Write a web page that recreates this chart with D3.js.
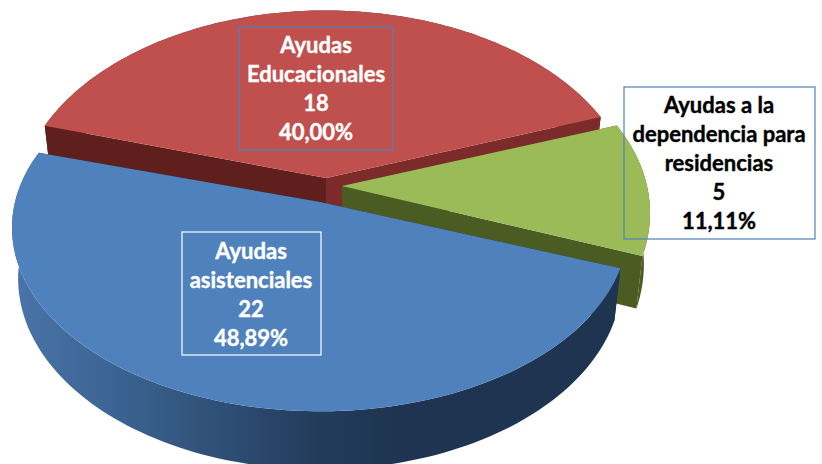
<!DOCTYPE html>
<html>
<head>
<meta charset="utf-8">
<style>
  html, body { margin: 0; padding: 0; background: #fff; overflow: hidden; }
  text { font-family: Lato, 'Open Sans', sans-serif; font-weight: 700; }
</style>
<script src="https://cdn.jsdelivr.net/npm/d3@7"></script>
</head>
<body>
<div id="chart"></div>
<script>
// Data
const categories = ['Educacionales', 'Dependencia', 'Asistenciales']
const values = [18, 5, 22]
const labelLines = [
  ['Ayudas', 'Educacionales', '18', '40,00%'],
  ['Ayudas a la', 'dependencia para', 'residencias', '5', '11,11%'],
  ['Ayudas', 'asistenciales', '22', '48,89%'],
]
const faceColors = ['#c0504d', '#9bbb59', '#4f81bd']

const width = 822
const height = 464

// Where each exploded slice sits, and its label box
const slices = [
  { cx: 326, cy: 178, ry: 191, wallA: '#7d2a2b', wallB: '#5f1f1c', side: '#7d2a2b' },
  { cx: 342, cy: 186, ry: 190, wallA: '#4b5c22', wallB: '#4b5c22', side: '#4b5c22' },
  { cx: 320, cy: 202, ry: 180, wallA: '#1e3450', wallB: '#1e3450', side: 'url(#blueSide)' },
]
const boxes = [
  { x: 239, y: 27, w: 154, h: 123, stroke: '#4f81bd', color: '#fff', mid: 316, first: 53 },
  { x: 624, y: 87, w: 191, h: 152, stroke: '#4f81bd', color: '#000', mid: 719, first: 113 },
  { x: 182, y: 232, w: 139, h: 123, stroke: '#fff', color: '#fff', mid: 251, first: 259 },
]

const rx = 305
const persp = 0.14
const depth = 50
const shrink = 0.98
const lineStep = 29

const svg = d3
  .select('#chart')
  .append('svg')
  .attr('width', width)
  .attr('height', height)
  .attr('viewBox', [0, 0, width, height])
  .style('display', 'block')

// Shading of the blue outer wall
const grad = svg
  .append('defs')
  .append('linearGradient')
  .attr('id', 'blueSide')
  .attr('gradientUnits', 'userSpaceOnUse')
  .attr('x1', 14)
  .attr('x2', 400)
  .attr('y1', 0)
  .attr('y2', 0)
grad
  .selectAll('stop')
  .data([
    [0, '#4a74a8'],
    [0.25, '#3c6494'],
    [0.5, '#305279'],
    [0.78, '#233c5c'],
    [1, '#1e3450'],
  ])
  .join('stop')
  .attr('offset', (d) => d[0])
  .attr('stop-color', (d) => d[1])

const pie = d3
  .pie()
  .sort(null)
  .startAngle((-73.5 * Math.PI) / 180)
  .endAngle((286.5 * Math.PI) / 180)

// Project a point of the disc: a = angle clockwise from the back, r = 0..1
function project(s, a, r, low) {
  const u = Math.sin(a) * r
  const v = Math.cos(a) * r
  const den = 1 + persp * v
  const k = low ? shrink : 1
  return [s.cx + (rx * k * u) / den, s.cy - (s.ry * v) / den + (low ? depth / den : 0)]
}

const line = d3.line()
const arcPoints = (s, d, low) =>
  d3.range(0, 121).map((i) => project(s, d.startAngle + ((d.endAngle - d.startAngle) * i) / 120, 1, low))

const arcs = pie(values)
const g = svg.append('g')

arcs.forEach((d, i) => {
  const s = slices[i]
  const top = arcPoints(s, d, false)
  const low = arcPoints(s, d, true)
  const apex = project(s, 0, 0, false)
  const apexLow = project(s, 0, 0, true)

  // outer wall
  g.append('path')
    .attr('d', line(top.concat(low.slice().reverse())) + 'Z')
    .attr('fill', s.side)

  // the two cut walls
  g.append('path')
    .attr('d', line([apex, top[120], low[120], apexLow]) + 'Z')
    .attr('fill', s.wallA)
  g.append('path')
    .attr('d', line([apex, top[0], low[0], apexLow]) + 'Z')
    .attr('fill', s.wallB)

  // top face
  g.append('path')
    .attr('class', categories[i])
    .attr('d', line([apex].concat(top)) + 'Z')
    .attr('fill', faceColors[i])
})

// Label boxes
boxes.forEach((b, i) => {
  svg
    .append('rect')
    .attr('x', b.x)
    .attr('y', b.y)
    .attr('width', b.w)
    .attr('height', b.h)
    .attr('fill', 'none')
    .attr('stroke', b.stroke)
    .attr('stroke-width', 1.2)

  svg
    .append('text')
    .attr('text-anchor', 'middle')
    .attr('font-size', 22)
    .attr('fill', b.color)
    .attr('stroke', b.color)
    .attr('stroke-width', 0.4)
    .selectAll('tspan')
    .data(labelLines[i])
    .join('tspan')
    .attr('x', b.mid)
    .attr('y', (d, j) => b.first + j * lineStep)
    .text((d) => d)
})
</script>
</body>
</html>
